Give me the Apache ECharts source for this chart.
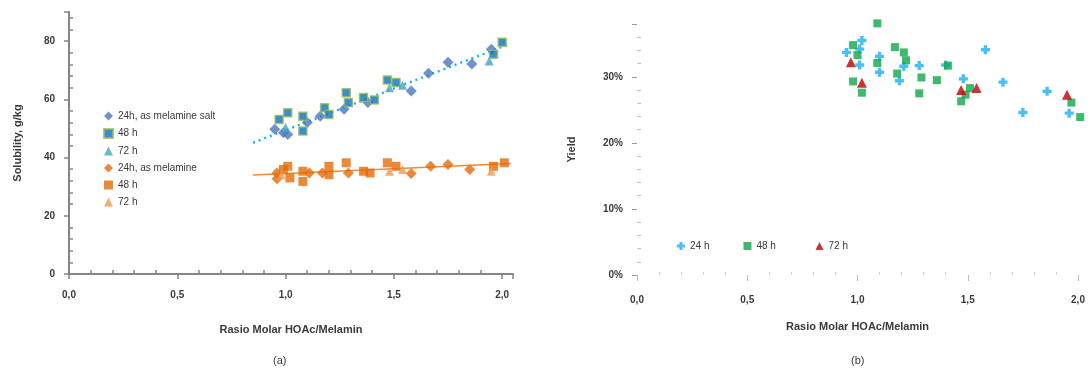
<!DOCTYPE html>
<html>
<head>
<meta charset="utf-8">
<script src="https://cdn.jsdelivr.net/npm/echarts@6/dist/echarts.min.js"></script>
<style>
  html, body { margin: 0; padding: 0; background: #fff; }
  #chart { width: 1092px; height: 370px; }
</style>
</head>
<body>
<div id="chart"></div>
<script>
// Panel (a): solubility (g/kg) against HOAc/melamine molar ratio, [ratio, solubility]
const solSalt24 = [[0.95,49.7],[0.99,48.5],[1.01,47.9],[1.10,52.0],[1.16,54.2],[1.27,56.6],[1.38,58.9],[1.58,62.9],[1.66,69.0],[1.75,72.7],[1.86,72.1],[1.95,77.2]];
const solSalt48 = [[0.97,53.1],[1.01,55.4],[1.08,54.2],[1.08,49.1],[1.18,57.1],[1.20,54.8],[1.28,62.3],[1.29,58.9],[1.36,60.6],[1.41,59.8],[1.47,66.6],[1.51,65.8],[1.96,75.5],[2.00,79.6]];
const solSalt72 = [[1.00,50.3],[1.48,64.0],[1.54,64.8],[1.94,73.2]];
const solMel24 = [[0.96,34.7],[0.96,32.7],[1.11,34.7],[1.17,34.7],[1.29,34.7],[1.58,34.5],[1.67,37.0],[1.75,37.6],[1.85,35.9]];
const solMel48 = [[0.99,35.9],[1.01,37.0],[1.02,33.0],[1.08,35.3],[1.08,31.8],[1.20,34.1],[1.20,37.0],[1.28,38.2],[1.36,35.3],[1.39,34.7],[1.47,38.2],[1.51,37.0],[1.96,37.0],[2.01,38.2]];
const solMel72 = [[0.98,34.1],[1.48,35.3],[1.54,35.9],[1.95,35.3]];

// Trend lines of panel (a): end points
const trendX = [0.85, 2.04];
const trendSalt = [45.1, 79.2];
const trendMel = [34.0, 38.0];

// Panel (b): yield (%) against HOAc/melamine molar ratio, [ratio, yield]
const yield24 = [[1.02,35.5],[0.95,33.7],[1.01,34.2],[1.01,31.8],[1.10,33.1],[1.10,30.7],[1.21,31.6],[1.19,29.4],[1.28,31.7],[1.40,31.8],[1.48,29.7],[1.58,34.1],[1.66,29.2],[1.75,24.6],[1.86,27.8],[1.96,24.5]];
const yield48 = [[1.09,38.1],[0.98,34.8],[1.00,33.3],[1.09,32.1],[0.98,29.3],[1.02,27.6],[1.17,34.5],[1.21,33.7],[1.22,32.5],[1.18,30.5],[1.29,29.9],[1.28,27.5],[1.36,29.5],[1.41,31.7],[1.51,28.3],[1.49,27.3],[1.47,26.3],[1.97,26.1],[2.01,23.9]];
const yield72 = [[0.97,32.2],[1.02,29.1],[1.47,28.0],[1.54,28.3],[1.95,27.3]];

// Legend labels
const namesA = ['24h, as melamine salt', '48 h', '72 h', '24h, as melamine', '48 h ', '72 h '];
const namesB = ['24 h', '48 h  ', '72 h  '];
const xTitle = 'Rasio Molar HOAc/Melamin';

const FONT = '"Liberation Sans", Arial, sans-serif';
const TXT = '#3a3a3a';
const plus = 'path://M2.5,0H5.5V2.5H8V5.5H5.5V8H2.5V5.5H0V2.5H2.5Z';

const commaFmt = v => v.toFixed(1).replace('.', ',');
const labelStyle = { color: TXT, fontFamily: FONT, fontSize: 10, fontWeight: 'bold' };

const chart = echarts.init(document.getElementById('chart'), null, { renderer: 'canvas' });

function scatter(name, data, ax, symbol, size, color, border) {
  return {
    type: 'scatter', name, data, xAxisIndex: ax, yAxisIndex: ax,
    symbol, symbolSize: size, clip: false,
    itemStyle: border ? { color, borderColor: border, borderWidth: 1.5 } : { color }
  };
}

chart.setOption({
  animation: false,
  backgroundColor: '#ffffff',
  title: [
    { text: '(a)', left: 268, top: 350, textStyle: { fontFamily: FONT, fontSize: 11, fontWeight: 'normal', color: TXT } },
    { text: '(b)', left: 846, top: 350, textStyle: { fontFamily: FONT, fontSize: 11, fontWeight: 'normal', color: TXT } }
  ],
  legend: [
    {
      data: namesA, orient: 'vertical', left: 98, top: 106,
      itemWidth: 9, itemHeight: 9, itemGap: 7,
      textStyle: { fontFamily: FONT, fontSize: 10, color: TXT }
    },
    {
      data: namesB, orient: 'horizontal', left: 672, top: 236,
      itemWidth: 8, itemHeight: 8, itemGap: 34,
      textStyle: { fontFamily: FONT, fontSize: 10, color: TXT }
    }
  ],
  grid: [
    { left: 69, top: 12, width: 444, height: 262 },
    { left: 637, top: 24, width: 441, height: 251 }
  ],
  xAxis: [
    {
      gridIndex: 0, type: 'value', min: 0, max: 2.05, interval: 0.5,
      name: xTitle, nameLocation: 'middle', nameGap: 50,
      nameTextStyle: { fontFamily: FONT, fontSize: 11, fontWeight: 'bold', color: TXT },
      axisLine: { lineStyle: { color: '#858585', width: 2 } },
      axisTick: { length: 5, lineStyle: { color: '#858585', width: 1.5 } },
      minorTick: { show: true, splitNumber: 5, length: -4, lineStyle: { color: '#858585', width: 1.5 } },
      splitLine: { show: false },
      axisLabel: Object.assign({ margin: 16, formatter: commaFmt, showMaxLabel: false }, labelStyle)
    },
    {
      gridIndex: 1, type: 'value', min: 0, max: 2.0, interval: 0.5,
      name: xTitle, nameLocation: 'middle', nameGap: 46,
      nameTextStyle: { fontFamily: FONT, fontSize: 11, fontWeight: 'bold', color: TXT },
      axisLine: { show: false },
      axisTick: { length: 6, inside: false, lineStyle: { color: '#bdbdbd', width: 1 } },
      minorTick: { show: true, splitNumber: 5, length: -3, lineStyle: { color: '#cfcfcf', width: 1 } },
      splitLine: { show: false },
      axisLabel: Object.assign({ margin: 20, formatter: commaFmt }, labelStyle)
    }
  ],
  yAxis: [
    {
      gridIndex: 0, type: 'value', min: 0, max: 90, interval: 20,
      name: 'Solubility, g/kg', nameLocation: 'middle', nameGap: 46,
      nameTextStyle: { fontFamily: FONT, fontSize: 11, fontWeight: 'bold', color: TXT },
      axisLine: { show: true, lineStyle: { color: '#858585', width: 2 } },
      axisTick: { show: true, length: 5, lineStyle: { color: '#858585', width: 1.5 } },
      minorTick: { show: true, splitNumber: 5, length: -4, lineStyle: { color: '#858585', width: 1.5 } },
      splitLine: { show: false },
      axisLabel: Object.assign({ margin: 14, showMaxLabel: false }, labelStyle)
    },
    {
      gridIndex: 1, type: 'value', min: 0, max: 38, interval: 10,
      name: 'Yield', nameLocation: 'middle', nameGap: 60,
      nameTextStyle: { fontFamily: FONT, fontSize: 11, fontWeight: 'bold', color: TXT },
      axisLine: { show: false },
      axisTick: { show: true, length: 5, lineStyle: { color: '#9a9a9a', width: 1 } },
      minorTick: { show: true, splitNumber: 5, length: -4, lineStyle: { color: '#c4c4c4', width: 1 } },
      splitLine: { show: false },
      axisLabel: Object.assign({ margin: 14, showMaxLabel: false, formatter: v => (v % 10 === 0 ? v + '%' : '') }, labelStyle)
    }
  ],
  series: [
    {
      type: 'line', name: 'trendSalt', data: trendX.map((x, i) => [x, trendSalt[i]]),
      xAxisIndex: 0, yAxisIndex: 0, symbol: 'none', silent: true, z: 1,
      lineStyle: { color: '#1fb4ec', width: 2.5, type: [2, 4] }
    },
    {
      type: 'line', name: 'trendMel', data: trendX.map((x, i) => [x, trendMel[i]]),
      xAxisIndex: 0, yAxisIndex: 0, symbol: 'none', silent: true, z: 1,
      lineStyle: { color: '#ef8a3a', width: 1.5 }
    },
    scatter(namesA[0], solSalt24, 0, 'diamond', 11, '#4a78bd'),
    scatter(namesA[1], solSalt48, 0, 'rect', 8, '#0a72c2', '#9bbb59'),
    scatter(namesA[2], solSalt72, 0, 'triangle', 9, '#45a5c2'),
    scatter(namesA[3], solMel24, 0, 'diamond', 11, '#e46c0a'),
    scatter(namesA[4], solMel48, 0, 'rect', 9, '#e46c0a'),
    scatter(namesA[5], solMel72, 0, 'triangle', 9, '#f2984e'),
    scatter(namesB[0], yield24, 1, plus, 9, '#19b1f0'),
    scatter(namesB[1], yield48, 1, 'rect', 8, '#0fa84a'),
    scatter(namesB[2], yield72, 1, 'triangle', 10, '#c00000')
  ]
});
</script>
</body>
</html>
